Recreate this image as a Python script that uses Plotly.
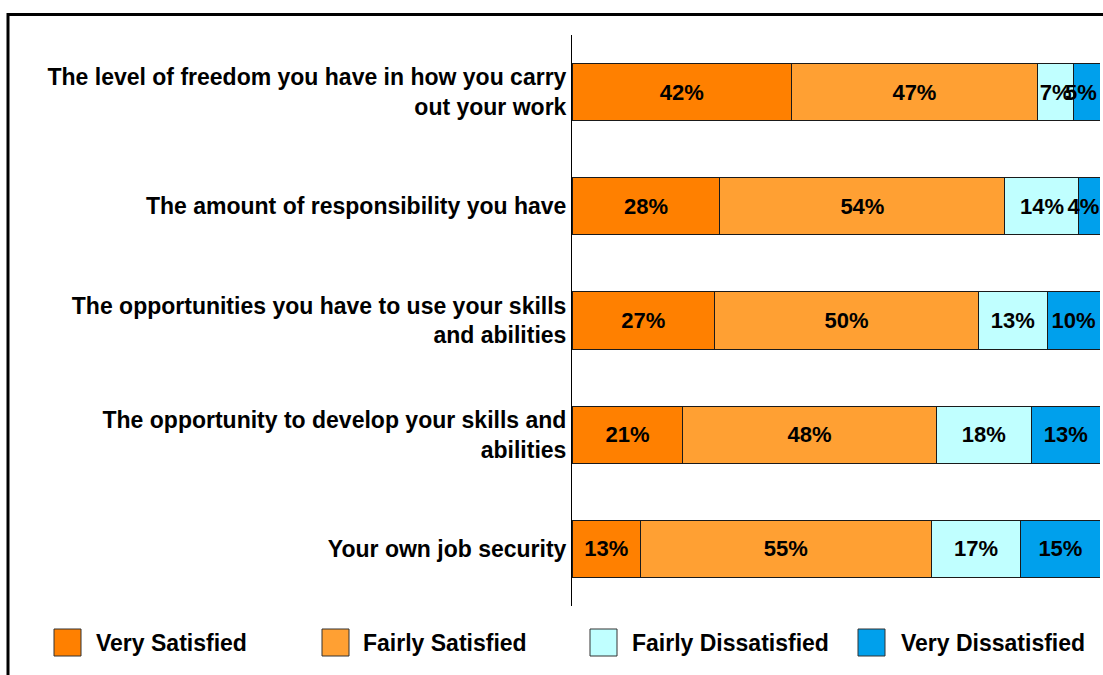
import plotly.graph_objects as go

categories = [
    "The level of freedom you have in how you carry<br>out your work",
    "The amount of responsibility you have",
    "The opportunities you have to use your skills<br>and abilities",
    "The opportunity to develop your skills and<br>abilities",
    "Your own job security",
]
series_names = ["Very Satisfied", "Fairly Satisfied", "Fairly Dissatisfied", "Very Dissatisfied"]
very_satisfied = [42, 28, 27, 21, 13]
fairly_satisfied = [47, 54, 50, 48, 55]
fairly_dissatisfied = [7, 14, 13, 18, 17]
very_dissatisfied = [5, 4, 10, 13, 15]
colors = ["#FF8000", "#FFA033", "#C0FFFF", "#00A0EC"]

series_values = [very_satisfied, fairly_satisfied, fairly_dissatisfied, very_dissatisfied]

W, H = 1103, 675
ML, MR, MT, MB = 572, 3, 35, 69
PW, PH = W - ML - MR, H - MT - MB


def px(x):
    return (x - ML) / PW


def py(y):
    return (H - MB - y) / PH


FONT = "Arial, Liberation Sans, sans-serif"
NBSP = "\u00a0"

fig = go.Figure()
n_series = len(series_names)
for i, (name, vals, col) in enumerate(zip(series_names, series_values, colors)):
    labels = []
    for v in vals:
        t = f"{v}%"
        # the last (right-most) segment keeps narrow labels inside the chart edge
        if i == n_series - 1 and v < 6:
            t = t + NBSP * 2
        labels.append(t)
    fig.add_trace(go.Bar(
        name=name,
        y=categories,
        x=vals,
        orientation="h",
        marker=dict(color=col, line=dict(color="#1a1a1a", width=1)),
        text=labels,
        textposition="inside",
        insidetextanchor="middle",
        constraintext="none",
        textangle=0,
        textfont=dict(family=FONT, size=22, color="black", weight="bold"),
        showlegend=False,
        hoverinfo="name+x+y",
    ))

shapes = [
    dict(type="rect", xref="paper", yref="paper",
         x0=px(8), x1=px(1115), y0=py(690), y1=py(14.5),
         line=dict(color="black", width=3), fillcolor="rgba(0,0,0,0)", layer="below"),
]
annotations = []
legend_sq_x = [54, 322, 590, 858]
legend_txt_x = [94, 361, 630, 899]
for name, col, sx, tx in zip(series_names, colors, legend_sq_x, legend_txt_x):
    shapes.append(dict(type="rect", xref="paper", yref="paper",
                       x0=px(sx), x1=px(sx + 27), y0=py(656), y1=py(629),
                       fillcolor=col, line=dict(color="#333333", width=1)))
    annotations.append(dict(xref="paper", yref="paper", x=px(tx), y=py(643),
                            xanchor="left", yanchor="middle", showarrow=False,
                            text=name, font=dict(family=FONT, size=23, color="black", weight="bold")))

fig.update_layout(
    width=W, height=H,
    margin=dict(l=ML, r=MR, t=MT, b=MB, pad=0),
    barmode="stack",
    barnorm="percent",
    bargap=0.5,
    plot_bgcolor="white",
    paper_bgcolor="white",
    font=dict(family=FONT, color="black"),
    shapes=shapes,
    annotations=annotations,
    xaxis=dict(range=[0, 100], visible=False, fixedrange=True),
    yaxis=dict(
        categoryorder="array", categoryarray=categories, autorange="reversed",
        showline=True, linecolor="black", linewidth=1,
        showgrid=False, ticks="", ticklabelstandoff=0,
        tickfont=dict(family=FONT, size=23, color="black", weight="bold"),
    ),
)

fig.write_html("out.html")
